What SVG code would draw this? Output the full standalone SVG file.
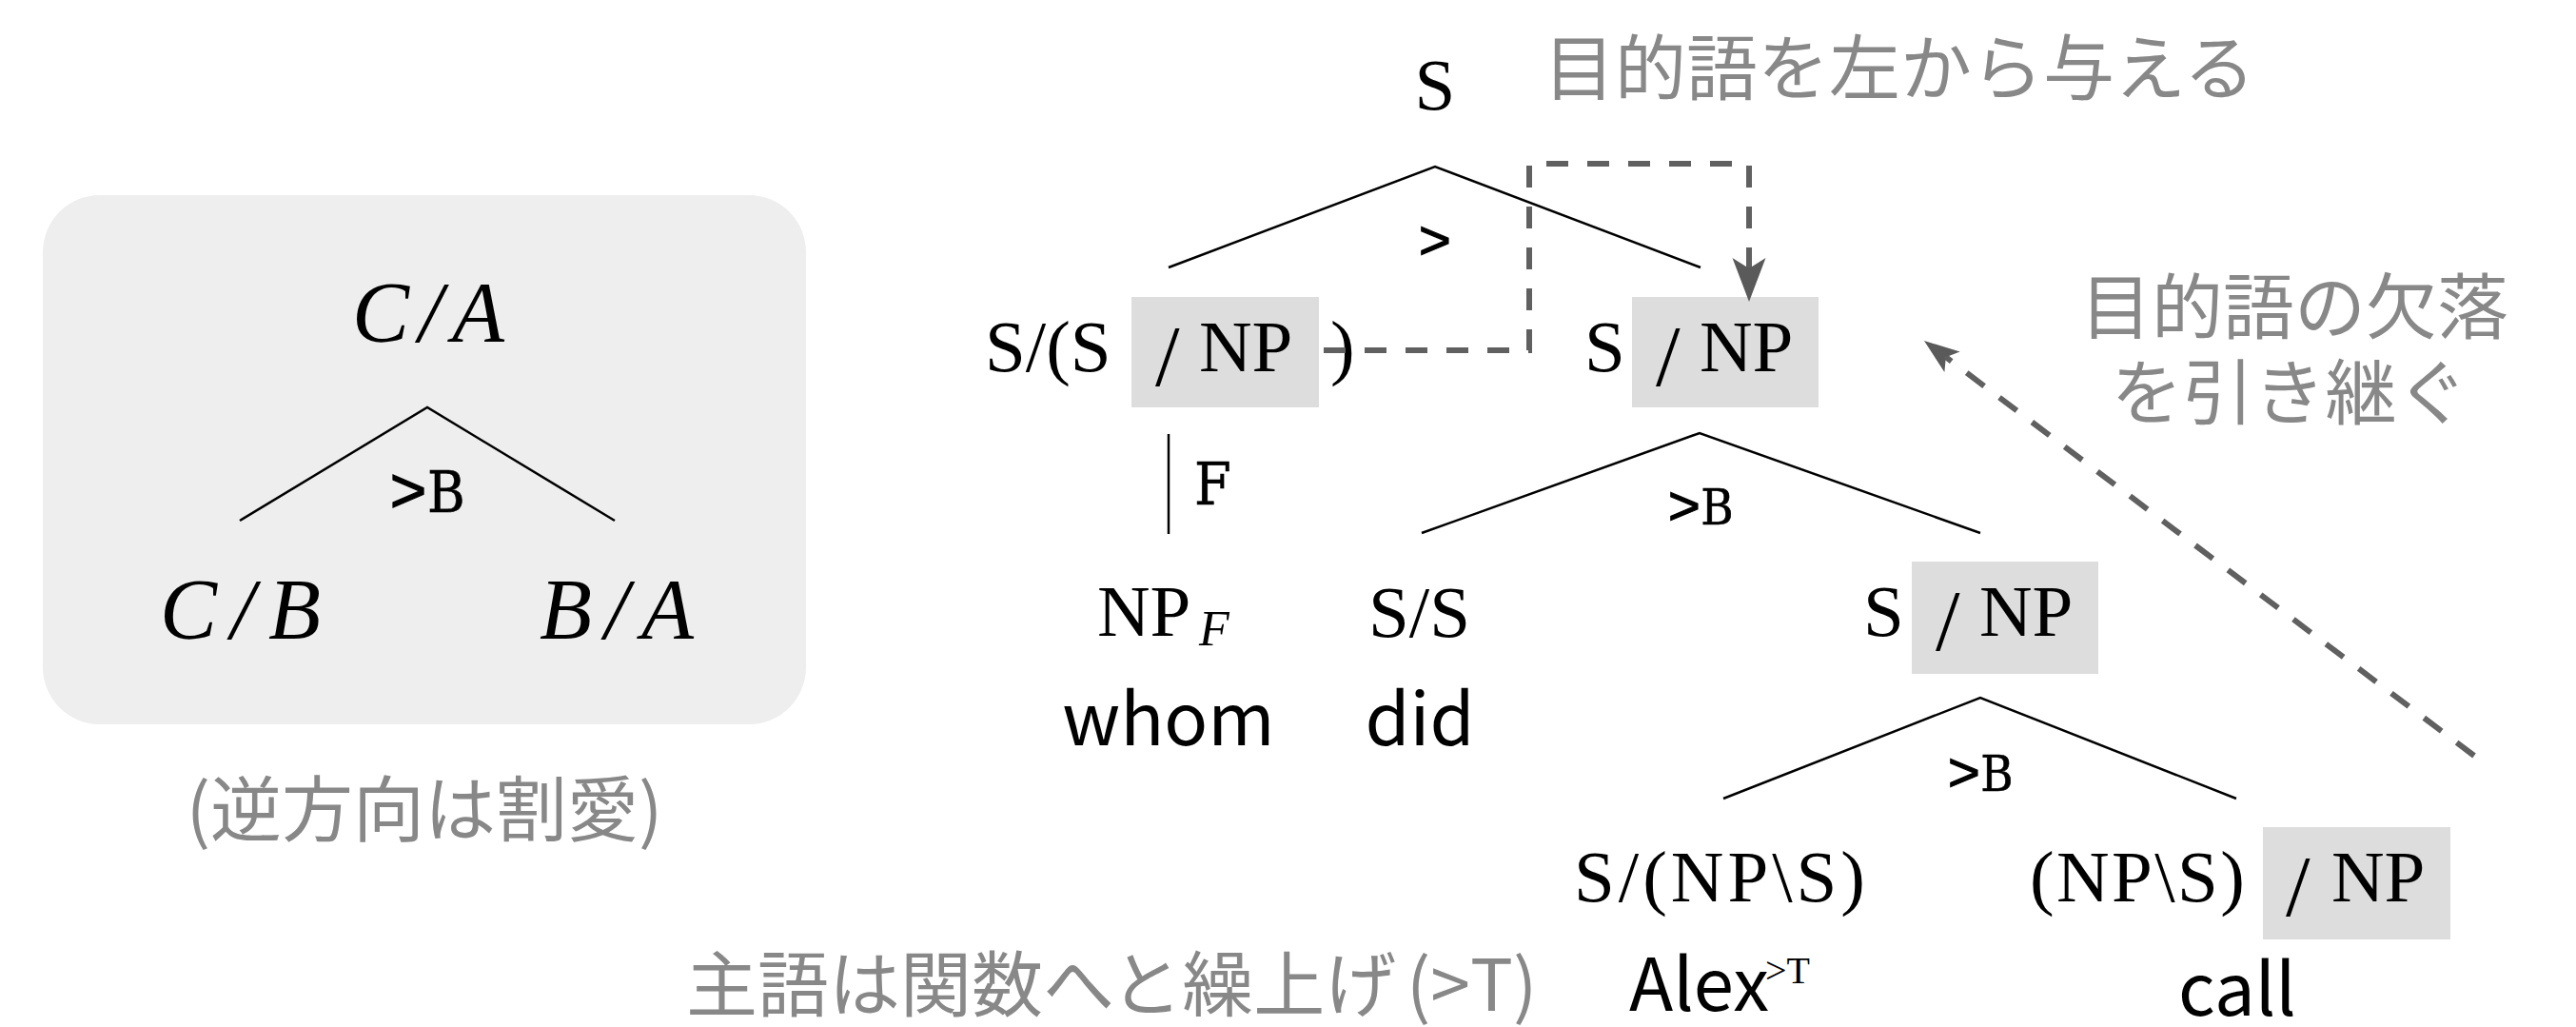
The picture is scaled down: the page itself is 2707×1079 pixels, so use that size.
<svg xmlns="http://www.w3.org/2000/svg" width="2707" height="1079" viewBox="0 0 2707 1079">
<defs>
<style>
.cat{font-family:"Liberation Serif","Times New Roman",serif;font-size:77px;fill:#000}
.cat .bs{font-size:92px}
.mi{font-family:"Liberation Serif","Times New Roman",serif;font-style:italic;font-size:90px;fill:#000}
.sub{font-family:"Liberation Serif",serif;font-style:italic;font-size:52px}
.sup{font-family:"Liberation Serif",serif;font-size:40px;fill:#000}
.word{font-family:"Noto Sans CJK JP","Noto Sans",sans-serif;font-size:76px;fill:#000}
.rule{font-family:"Liberation Mono","DejaVu Sans Mono",monospace;font-size:58px;fill:#000;stroke:#000;stroke-width:1.2;text-anchor:middle}
.rule .L{font-family:"DejaVu Serif","Liberation Serif",serif;font-stretch:condensed;font-size:52px;stroke-width:0.6}
.note{font-family:"Noto Sans CJK JP","Noto Sans",sans-serif;font-size:75px;fill:#888}
.hl{fill:#dddddd}
.panel{fill:#eeeeee}
.edge{stroke:#000;stroke-width:2.5;fill:none}
.dash{stroke:#606060;stroke-width:6;fill:none;stroke-dasharray:23 20}
.head{fill:#5a5a5a}
</style>
<marker id="headL" markerUnits="userSpaceOnUse" viewBox="-12 -18 48 36" markerWidth="48" markerHeight="36" refX="0" refY="0" orient="auto"><path class="head" d="M35,0 L-11,-17.5 L0,0 L-11,17.5 Z"/></marker>
<marker id="headS" markerUnits="userSpaceOnUse" viewBox="-10 -14 40 28" markerWidth="40" markerHeight="28" refX="0" refY="0" orient="auto"><path class="head" d="M28.6,0 L-8.4,-13.5 L0,0 L-8.4,13.5 Z"/></marker>
</defs>
<rect width="2707" height="1079" fill="#ffffff"/>

<g id="panel">
<rect class="panel" x="45" y="205" width="802" height="556" rx="60" ry="60"/>
</g>
<g id="panel-CA"><text class="mi" x="370" y="359" textLength="160" lengthAdjust="spacing">C/A</text></g>
<g id="panel-CB"><text class="mi" x="168" y="671" textLength="169" lengthAdjust="spacing">C/B</text></g>
<g id="panel-BA"><text class="mi" x="567" y="671" textLength="162" lengthAdjust="spacing">B/A</text></g>
<g id="panel-note"><text class="note" x="446" y="878" text-anchor="middle">(逆方向は割愛)</text></g>

<g id="n-root"><text class="cat" x="1508" y="115" text-anchor="middle">S</text></g>
<g id="n-whom-raised">
<rect class="hl" x="1189" y="312" width="197" height="116"/>
<text class="cat" y="390"><tspan x="1035">S/(S</tspan><tspan class="bs" x="1214" y="405">/</tspan><tspan x="1260" y="390">NP</tspan><tspan x="1398">)</tspan></text>
</g>
<g id="n-snp1">
<rect class="hl" x="1715" y="312" width="196" height="116"/>
<text class="cat" y="390"><tspan x="1665">S</tspan><tspan class="bs" x="1740" y="405">/</tspan><tspan x="1786" y="390">NP</tspan></text>
</g>
<g id="n-whom">
<text class="cat" x="1153" y="668">NP<tspan class="sub" x="1260" y="678">F</tspan></text>
<text class="word" x="1228" y="783" text-anchor="middle">whom</text>
</g>
<g id="n-did">
<text class="cat" x="1438" y="669">S/S</text>
<text class="word" x="1492" y="783" text-anchor="middle">did</text>
</g>
<g id="n-snp2">
<rect class="hl" x="2009" y="590" width="196" height="118"/>
<text class="cat" y="668"><tspan x="1958">S</tspan><tspan class="bs" x="2034" y="683">/</tspan><tspan x="2080" y="668">NP</tspan></text>
</g>
<g id="n-alex">
<text class="cat" x="1654" y="947" textLength="306" lengthAdjust="spacing">S/(NP\S)</text>
<text class="word" x="1712" y="1062">Alex</text>
<text class="sup" x="1855" y="1033">&gt;T</text>
</g>
<g id="n-call">
<rect class="hl" x="2378" y="869" width="197" height="118"/>
<text class="cat" x="2133" y="947" textLength="226" lengthAdjust="spacing">(NP\S)</text>
<text class="cat" y="947"><tspan class="bs" x="2402" y="962">/</tspan><tspan x="2450" y="947">NP</tspan></text>
<text class="word" x="2351" y="1067" text-anchor="middle">call</text>
</g>

<g id="notes">
<text class="note" x="1622" y="99">目的語を左から与える</text>
<text class="note" x="2411" y="350" text-anchor="middle">目的語の欠落</text>
<text class="note" x="2406" y="440" text-anchor="middle">を引き継ぐ</text>
<text class="note" y="1062"><tspan x="721">主語は関数へと繰上げ</tspan><tspan x="1478">(&gt;T)</tspan></text>
</g>

<g id="connectors">
<path class="edge" d="M252,547 L449,428 L646,547"/>
<text class="rule" x="449" y="538" style="font-size:66px">&gt;<tspan class="L" style="font-size:60px">B</tspan></text>
<path class="edge" d="M1228,281 L1508,175 L1787,281"/>
<text class="rule" x="1508" y="272">&gt;</text>
<path class="edge" d="M1228,456 V561"/>
<text class="rule" x="1255" y="530" style="text-anchor:start"><tspan class="L" style="font-size:62px">F</tspan></text>
<path class="edge" d="M1494,560 L1786,455 L2081,560"/>
<text class="rule" x="1787" y="551">&gt;<tspan class="L">B</tspan></text>
<path class="edge" d="M1811,839 L2081,733 L2350,839"/>
<text class="rule" x="2081" y="831">&gt;<tspan class="L">B</tspan></text>
<path class="dash" d="M1391,368 H1607 V172 H1838 V282" marker-end="url(#headL)"/>
<path class="dash" d="M2600,794 L2044.8,375.2" marker-end="url(#headS)"/>
</g>
</svg>
